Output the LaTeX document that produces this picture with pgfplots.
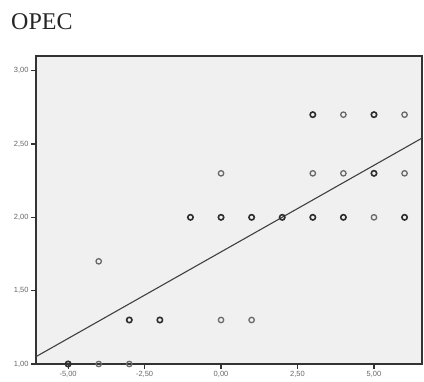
\documentclass[border=0pt]{standalone}
\usepackage{fontspec}
\setmainfont{Liberation Serif}
\newfontfamily\ticksans{Liberation Sans}
\usepackage{pgfplots}
\pgfplotsset{compat=1.18}
\definecolor{plotbg}{HTML}{F0F0F0}
\definecolor{dk}{HTML}{2E2E2E}
\definecolor{md}{HTML}{6A6A6A}
\begin{document}
\begin{tikzpicture}[x=1pt,y=1pt]
\useasboundingbox (0,0) rectangle (424,382);
\node[anchor=base west, font=\fontsize{24}{26}\selectfont, text=black!85, inner sep=0pt] at (11,352) {OPEC};
\begin{axis}[
  at={(36pt,18pt)}, anchor=south west,
  scale only axis, width=386pt, height=308pt,
  xmin=-6.05, xmax=6.57, ymin=1, ymax=3.10,
  axis background/.style={fill=plotbg},
  axis line style={draw=black!80, line width=1.6pt},
  xtick={-5,-2.5,0,2.5,5}, ytick={1,1.5,2,2.5,3},
  tick align=outside, tick pos=left,
  major tick length=5pt,
  major tick style={draw=black!80, line width=1.1pt},
  xticklabel style={font=\ticksans\fontsize{7.5}{8}\selectfont, text=black!60, yshift=1pt},
  yticklabel style={font=\ticksans\fontsize{7.5}{8}\selectfont, text=black!60, xshift=1pt},
  /pgf/number format/.cd, fixed, fixed zerofill, precision=2, use comma, assume math mode=true,
  /pgfplots/.cd,
  clip=false,
]
\addplot[draw=black!75, line width=1.1pt] coordinates {(-6.05,1.05) (6.57,2.54)};
\addplot[only marks, mark=o, mark size=2.7pt, mark options={draw=md, line width=1.3pt}] coordinates {
  (4,2.7) (6,2.7) (0,2.3) (3,2.3) (4,2.3) (6,2.3) (5,2) (-4,1.7) (0,1.3) (1,1.3) (-4,1) (-3,1)
};
\addplot[only marks, mark=o, mark size=2.7pt, mark options={draw=dk, line width=1.6pt}] coordinates {
  (3,2.7) (5,2.7) (5,2.3) (-1,2) (0,2) (1,2) (2,2) (3,2) (4,2) (6,2) (-3,1.3) (-2,1.3) (-5,1)
};
\end{axis}
\end{tikzpicture}
\end{document}
